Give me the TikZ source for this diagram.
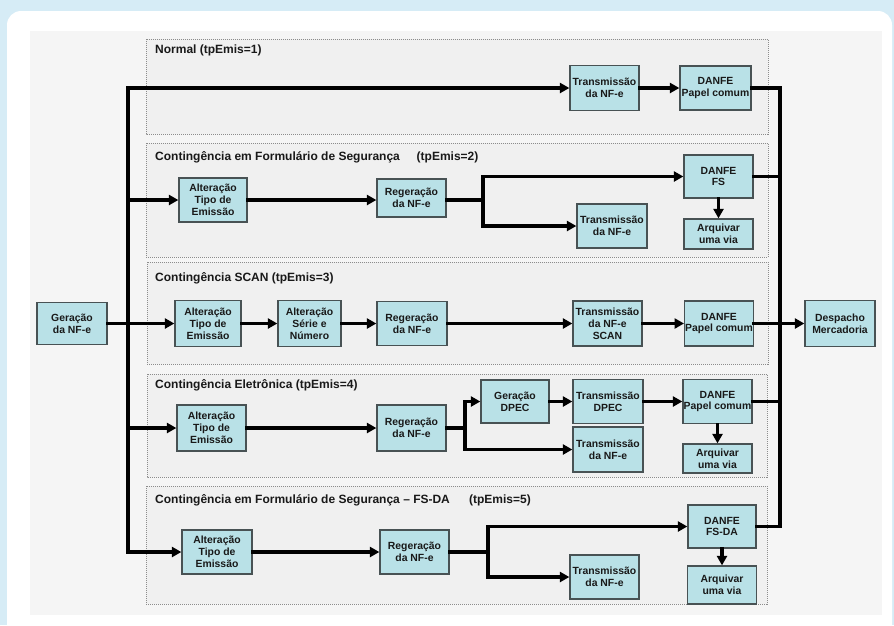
\documentclass[tikz,border=0pt]{standalone}
\usepackage{fontspec}
\setmainfont{Liberation Sans}
\usetikzlibrary{arrows.meta,calc}
\definecolor{bgblue}{RGB}{214,236,246}
\definecolor{pagegray}{RGB}{245,245,245}
\definecolor{grpgray}{RGB}{240,240,240}
\definecolor{grpline}{RGB}{140,140,140}
\definecolor{boxfill}{RGB}{185,225,231}
\definecolor{boxline}{RGB}{72,82,84}
\definecolor{txt}{RGB}{25,25,25}
\begin{document}
\begin{tikzpicture}[x=1pt,y=-1pt,
  box/.style={draw=boxline, fill=boxfill, line width=1.3pt, align=center, inner sep=0.5pt,
    font=\fontsize{10.4}{11.8}\selectfont\bfseries, text=txt},
  grp/.style={draw=grpline, dash pattern=on 1pt off 1pt, line width=1pt, fill=grpgray},
  ttl/.style={anchor=west, font=\fontsize{12}{13}\selectfont\bfseries, text=txt, inner sep=0pt},
  ln/.style={line width=3.2pt, line cap=rect},
  arr/.style={ln, -{Triangle[length=9.5pt,width=10pt]}}]
% background
\useasboundingbox (0,0) rectangle (894,625);
\fill[bgblue] (0,0) rectangle (894,625);
\fill[white, rounded corners=14pt] (7,11) rectangle (892,640);
\fill[pagegray] (30,31) rectangle (882,615);
% groups
\draw[grp] (146,39) rectangle (768,134);
\draw[grp] (146,143) rectangle (768,257);
\draw[grp] (147,262) rectangle (768,364);
\draw[grp] (147,374) rectangle (767,477);
\draw[grp] (146,486) rectangle (767,604);
\node[ttl] (t1) at (155,50) {Normal (tpEmis=1)};
\node[ttl] (t2) at (155,157) {Contingência em Formulário de Segurança\hspace{1.4em}(tpEmis=2)};
\node[ttl] (t3) at (155,278) {Contingência SCAN (tpEmis=3)};
\node[ttl] (t4) at (155,385) {Contingência Eletrônica (tpEmis=4)};
\node[ttl] (t5) at (155,500) {Contingência em Formulário de Segurança – FS-DA\hspace{1.6em}(tpEmis=5)};
% outer nodes
\node[box, minimum width=70, minimum height=42] (ger) at (72,323.5) {Geração\\da NF-e};
\node[box, minimum width=70, minimum height=46] (desp) at (840,323.5) {Despacho\\Mercadoria};
% normal
\node[box, minimum width=69, minimum height=45] (nTr) at (604.5,88) {Transmissão\\da NF-e};
\node[box, minimum width=71, minimum height=44] (nDan) at (715.5,88) {DANFE\\Papel comum};
% FS
\node[box, minimum width=68, minimum height=44] (fAlt) at (213,200) {Alteração\\Tipo de\\Emissão};
\node[box, minimum width=69, minimum height=38] (fReg) at (411.5,198) {Regeração\\da NF-e};
\node[box, minimum width=69, minimum height=43] (fDan) at (718.5,176.5) {DANFE\\FS};
\node[box, minimum width=70, minimum height=44] (fTr) at (612,226) {Transmissão\\da NF-e};
\node[box, minimum width=69, minimum height=30] (fArq) at (718.5,234) {Arquivar\\uma via};
% SCAN
\node[box, minimum width=66, minimum height=46] (sAlt) at (208,323.5) {Alteração\\Tipo de\\Emissão};
\node[box, minimum width=63, minimum height=46] (sSer) at (309.5,323.5) {Alteração\\Série e\\Número};
\node[box, minimum width=70, minimum height=44] (sReg) at (412,323.5) {Regeração\\da NF-e};
\node[box, minimum width=69, minimum height=45] (sTr) at (607.5,323.5) {Transmissão\\da NF-e\\SCAN};
\node[box, minimum width=68, minimum height=45] (sDan) at (719,323.5) {DANFE\\Papel comum};
% Eletronica
\node[box, minimum width=69, minimum height=46] (eAlt) at (211.5,428) {Alteração\\Tipo de\\Emissão};
\node[box, minimum width=69, minimum height=46] (eReg) at (411.5,428) {Regeração\\da NF-e};
\node[box, minimum width=68, minimum height=43] (eGer) at (515,401.5) {Geração\\DPEC};
\node[box, minimum width=70, minimum height=44] (eTrD) at (608,401.5) {Transmissão\\DPEC};
\node[box, minimum width=70, minimum height=45] (eTrN) at (608,449.5) {Transmissão\\da NF-e};
\node[box, minimum width=69, minimum height=44] (eDan) at (717.5,401.5) {DANFE\\Papel comum};
\node[box, minimum width=69, minimum height=29] (eArq) at (717.5,458.5) {Arquivar\\uma via};
% FS-DA
\node[box, minimum width=70, minimum height=44] (dAlt) at (217,552) {Alteração\\Tipo de\\Emissão};
\node[box, minimum width=69, minimum height=44] (dReg) at (414.5,552) {Regeração\\da NF-e};
\node[box, minimum width=68, minimum height=43] (dDan) at (722,526.5) {DANFE\\FS-DA};
\node[box, minimum width=69, minimum height=44] (dTr) at (604.5,577) {Transmissão\\da NF-e};
\node[box, minimum width=69, minimum height=38] (dArq) at (722,585) {Arquivar\\uma via};
% buses
\coordinate (lb) at (128,323.5);
\coordinate (rb) at (780,323.5);
\draw[arr] (ger.east) -- (sAlt.west);
\draw[arr] (lb) |- (nTr.west);
\draw[arr] (lb) |- (dAlt.west);
\draw[arr] (lb |- fAlt.west) -- (fAlt.west);
\draw[arr] (lb |- eAlt.west) -- (eAlt.west);
\draw[ln] (nDan.east) -| (rb |- dDan.east) -- (dDan.east);
\draw[ln] (fDan.east) -- (rb |- fDan.east);
\draw[ln] (eDan.east) -- (rb |- eDan.east);
\draw[arr] (sDan.east) -- (desp.west);
% normal
\draw[arr] (nTr.east) -- (nDan.west);
% FS
\coordinate (fsp) at (483,200);
\draw[arr] (fAlt.east) -- (fAlt.east -| fReg.west);
\draw[ln] (fAlt.east -| fReg.east) -- (fsp);
\draw[arr] (fsp) |- (fDan.west);
\draw[arr] (fsp) |- (fTr.west);
\draw[arr] (fDan.south) -- (fArq.north);
% SCAN
\draw[arr] (sAlt.east) -- (sSer.west);
\draw[arr] (sSer.east) -- (sReg.west);
\draw[arr] (sReg.east) -- (sTr.west);
\draw[arr] (sTr.east) -- (sDan.west);
% Eletronica
\coordinate (esp) at (465,428);
\draw[arr] (eAlt.east) -- (eReg.west);
\draw[ln] (eReg.east) -- (esp);
\draw[arr] (esp) |- (eGer.west);
\draw[arr] (esp) |- (eTrN.west);
\draw[arr] (eGer.east) -- (eTrD.west);
\draw[arr] (eTrD.east) -- (eDan.west);
\draw[arr] (eDan.south) -- (eArq.north);
% FS-DA
\coordinate (dsp) at (488,552);
\draw[arr] (dAlt.east) -- (dReg.west);
\draw[ln] (dReg.east) -- (dsp);
\draw[arr] (dsp) |- (dDan.west);
\draw[arr] (dsp) |- (dTr.west);
\draw[arr] (dDan.south) -- (dArq.north);
\end{tikzpicture}
\end{document}
